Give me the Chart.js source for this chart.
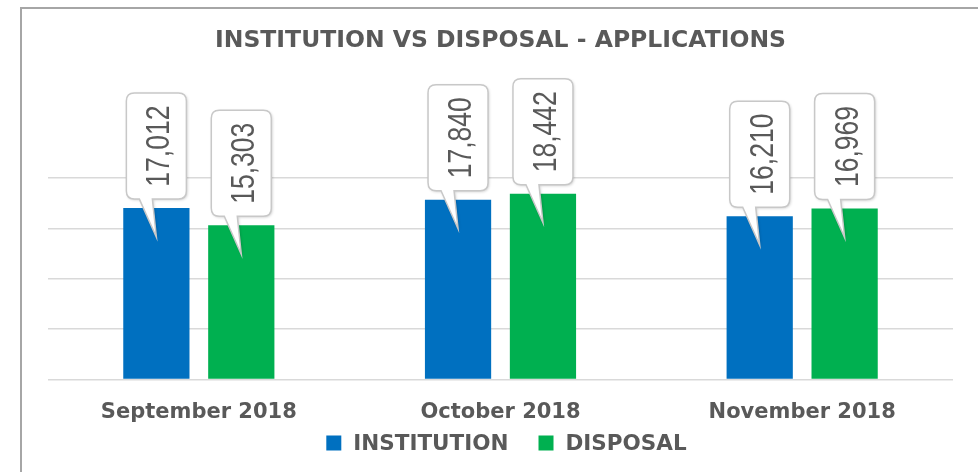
<!DOCTYPE html>
<html>
<head>
<meta charset="utf-8">
<script src="https://cdn.jsdelivr.net/npm/chart.js@4.4.0/dist/chart.umd.min.js"></script>
<style>
  html, body { margin: 0; padding: 0; background: #fff; }
</style>
</head>
<body>
<canvas id="bar-chart" width="978" height="472"></canvas>
<script>
const months = ["September 2018", "October 2018", "November 2018"];
const institution = [17012, 17840, 16210];
const disposal = [15303, 18442, 16969];
const yTicks = [0, 5000, 10000, 15000, 20000];

const textGray = "#595959";

// frame line on the top and left edge, like the pasted excel picture
const framePlugin = {
  id: "frame",
  beforeDraw(chart) {
    const ctx = chart.ctx;
    ctx.save();
    ctx.strokeStyle = "#a6a6a6";
    ctx.lineWidth = 2;
    ctx.beginPath();
    ctx.moveTo(21, chart.height);
    ctx.lineTo(21, 8);
    ctx.lineTo(chart.width, 8);
    ctx.stroke();
    ctx.restore();
  },
};

// callout boxes with the value rotated, pointing into each bar
const calloutPlugin = {
  id: "callouts",
  afterDatasetsDraw(chart) {
    const ctx = chart.ctx;
    chart.data.datasets.forEach((ds, i) => {
      const meta = chart.getDatasetMeta(i);
      meta.data.forEach((bar, j) => {
        const boxW = 60;
        const boxH = 106;
        const r = 8;
        const left = bar.x - boxW / 2;
        const bottom = bar.y - 9;
        const top = bottom - boxH;

        ctx.save();
        ctx.beginPath();
        ctx.moveTo(left + r, top);
        ctx.lineTo(left + boxW - r, top);
        ctx.quadraticCurveTo(left + boxW, top, left + boxW, top + r);
        ctx.lineTo(left + boxW, bottom - r);
        ctx.quadraticCurveTo(left + boxW, bottom, left + boxW - r, bottom);
        ctx.lineTo(left + 26, bottom);
        ctx.lineTo(bar.x, bar.y + 29);
        ctx.lineTo(left + 13, bottom);
        ctx.lineTo(left + r, bottom);
        ctx.quadraticCurveTo(left, bottom, left, bottom - r);
        ctx.lineTo(left, top + r);
        ctx.quadraticCurveTo(left, top, left + r, top);
        ctx.closePath();
        ctx.shadowColor = "rgba(0,0,0,0.22)";
        ctx.shadowBlur = 3;
        ctx.shadowOffsetX = 1;
        ctx.shadowOffsetY = 1;
        ctx.fillStyle = "#ffffff";
        ctx.fill();
        ctx.shadowColor = "transparent";
        ctx.strokeStyle = "#c8c8c8";
        ctx.lineWidth = 1.5;
        ctx.stroke();

        ctx.translate(bar.x + 1, top + boxH / 2);
        ctx.rotate(-Math.PI / 2);
        ctx.scale(0.78, 1);
        ctx.font = "34px 'Liberation Sans', Arial, sans-serif";
        ctx.fillStyle = textGray;
        ctx.textAlign = "center";
        ctx.textBaseline = "alphabetic";
        ctx.fillText(ds.data[j].toLocaleString("en-US"), 0, 12);
        ctx.restore();
      });
    });
  },
};

// legend drawn by hand so it can sit close under the month labels
const legendPlugin = {
  id: "bottomLegend",
  afterDraw(chart) {
    const ctx = chart.ctx;
    const box = 15;
    const gap = 30;
    ctx.save();
    ctx.font = "bold 21.5px 'DejaVu Sans'";
    const items = chart.data.datasets.map((ds) => ({
      text: ds.label,
      color: ds.backgroundColor,
      width: box + 12 + ctx.measureText(ds.label).width,
    }));
    const total =
      items.reduce((sum, it) => sum + it.width, 0) + gap * (items.length - 1);
    let x = (chart.chartArea.left + chart.chartArea.right) / 2 + 6 - total / 2;
    const y = 443;
    ctx.textBaseline = "middle";
    ctx.textAlign = "left";
    items.forEach((it) => {
      ctx.fillStyle = it.color;
      ctx.fillRect(x, y - box / 2, box, box);
      ctx.fillStyle = textGray;
      ctx.fillText(it.text, x + box + 12, y + 1);
      x += it.width + gap;
    });
    ctx.restore();
  },
};

new Chart(document.getElementById("bar-chart"), {
  type: "bar",
  data: {
    labels: months,
    datasets: [
      {
        label: "INSTITUTION",
        data: institution,
        backgroundColor: "#0070c0",
        borderWidth: 0,
        categoryPercentage: 0.563,
        barPercentage: 0.78,
      },
      {
        label: "DISPOSAL",
        data: disposal,
        backgroundColor: "#00b050",
        borderWidth: 0,
        categoryPercentage: 0.563,
        barPercentage: 0.78,
      },
    ],
  },
  options: {
    responsive: false,
    animation: false,
    layout: {
      padding: { left: 48, right: 25, top: 0, bottom: 33.4 },
    },
    plugins: {
      tooltip: { enabled: false },
      legend: { display: false },
      title: {
        display: true,
        text: "INSTITUTION VS DISPOSAL - APPLICATIONS",
        color: textGray,
        font: { family: "'DejaVu Sans'", size: 23.5, weight: "bold", lineHeight: 1.2 },
        padding: { top: 27, bottom: 122.8 },
      },
    },
    scales: {
      x: {
        grid: { display: false },
        border: { display: false },
        ticks: {
          color: textGray,
          padding: 13,
          font: { family: "'DejaVu Sans'", size: 21, weight: "bold", lineHeight: 1.2 },
        },
      },
      y: {
        min: 0,
        max: 20000,
        afterBuildTicks: (scale) => {
          scale.ticks = yTicks.map((v) => ({ value: v }));
        },
        ticks: { display: false },
        border: { display: false },
        grid: {
          color: "#d9d9d9",
          lineWidth: 1.5,
          drawTicks: false,
        },
      },
    },
  },
  plugins: [framePlugin, calloutPlugin, legendPlugin],
});
</script>
</body>
</html>
